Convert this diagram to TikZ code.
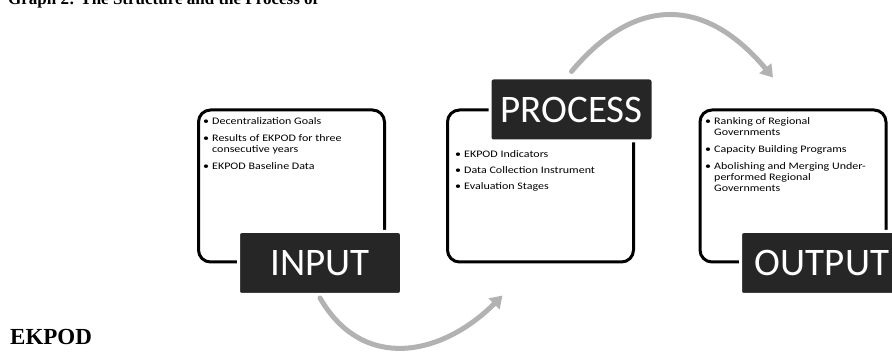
\documentclass[tikz,border=0pt]{standalone}
\usepackage{fontspec}
\newfontfamily\calibri{Carlito}
\newfontfamily\listfont[FakeStretch=1.2]{Carlito}
\newfontfamily\headfont{Liberation Serif}
\usetikzlibrary{arrows.meta}
\newcommand{\bul}{\makebox[9pt][l]{\textbullet}}
\newcommand{\cont}{\hspace*{9pt}}

\begin{document}
\begin{tikzpicture}[x=1pt, y=1pt, line join=round, line cap=round,
    frame/.style={draw, line width=3pt, rounded corners=12pt, minimum width=186pt, minimum height=152pt, inner sep=0pt},
    stage/.style={fill=black!85, draw=white, line width=3pt, rounded corners=3pt, text=white, font=\calibri\fontsize{39}{39}\selectfont, minimum width=163pt, minimum height=63pt, inner sep=0pt},
    items/.style={anchor=north west, inner sep=0pt, align=left, font=\listfont\fontsize{10}{11}\selectfont},
    flow/.style={draw=black!30, line width=5pt, -{Triangle[length=12pt,width=15pt]}, looseness=1.2}]
    \useasboundingbox (0,0) rectangle (892,355);
    \clip (0,0) rectangle (892,355);
    \node[anchor=base west, inner sep=0pt, font=\headfont\bfseries\fontsize{17}{17}\selectfont] (title) at (8,350) {Graph 2: The Structure and the Process of};
    \node[anchor=base west, inner sep=0pt, font=\headfont\bfseries\fontsize{23}{23}\selectfont] (ekpod) at (10,10) {EKPOD};
    % frames
    \node[frame] (inframe) at (291.5,169) {};
    \node[frame] (procframe) at (540.5,169) {};
    \node[frame] (outframe) at (793,169) {};
    \node[stage] (inlabel) at (320,92) {INPUT};
    \node[stage] (proclabel) at (571.5,245.5) {PROCESS};
    \node[stage] (outlabel) at (822,92) {OUTPUT};
    % lists
    \node[items] (initems) at ([xshift=6pt,yshift=-9pt]inframe.north west) {\bul Decentralization Goals\\[6pt]
        \bul Results of EKPOD for three\\ \cont consecutive years\\[6pt]
        \bul EKPOD Baseline Data};
    \node[items] (procitems) at ([xshift=9pt,yshift=-42pt]procframe.north west) {\bul EKPOD Indicators\\[5pt]
        \bul Data Collection Instrument\\[5pt]
        \bul Evaluation Stages};
    \node[items] (outitems) at ([xshift=6.5pt,yshift=-9pt]outframe.north west) {\bul Ranking of Regional\\ \cont Governments\\[6pt]
        \bul Capacity Building Programs\\[6pt]
        \bul Abolishing and Merging Under-\\ \cont performed Regional\\ \cont Governments};
    % arrows
    \draw[flow] ([yshift=-2pt]inlabel.south) to[out=-60, in=-135] ([xshift=-38pt,yshift=-32pt]procframe.south);
    \draw[flow] ([yshift=5pt]proclabel.north) to[out=50, in=130, looseness=1.3] ([xshift=-20pt,yshift=31pt]outframe.north);
\end{tikzpicture}
\end{document}
